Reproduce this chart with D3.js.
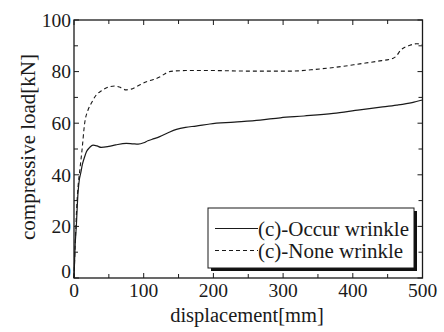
<!DOCTYPE html>
<html><head><meta charset="utf-8">
<script src="https://cdn.jsdelivr.net/npm/d3@7"></script>
<style>body{margin:0;background:#fff}svg{display:block}</style>
</head><body><svg id="c" width="444" height="332" font-family="'Liberation Serif', 'Times New Roman', Times, 'DejaVu Serif', serif"></svg>
<script>
const occurX = [0,1.5,3.3,5.7,7.6,9.6,12,15.3,18,22.5,27.3,33,39,50,60,75,85,92,100,106,115,123,135,147,160,175,195,230,267,296,330,372,410,440,463,485,500];
const occurY = [0,12,20,32.8,38,40.6,44,47,49,50.6,51.5,51.2,50.6,51,51.6,52.2,52,51.9,52.4,53.2,54,54.8,56.3,57.6,58.4,58.9,59.7,60.4,61.2,62.1,62.8,63.8,65.2,66.2,67,68,69];
const noneX = [0,2,4,6,8,11.5,15.3,20,24.8,32,39,51.6,58.4,65,75,82,90,104,114,125,133,142.5,160,200,250,315,340,362.6,385,410,435,458,463,468,482,492,500];
const noneY = [0,15,28,36,41,49.6,60,65,67.7,71,72.5,74.2,74.4,74,72.9,73.2,74.2,76.1,76.9,78.2,79.6,80.2,80.4,80.4,80.2,80.2,80.7,81.3,82,83,84,85.2,86.2,88.1,90.2,90.8,90.4];
const xTicks = [0,100,200,300,400,500];
const yTicks = [0,20,40,60,80,100];
const legendLabels = ["(c)-Occur wrinkle","(c)-None wrinkle"];
const xLabel = "displacement[mm]";
const yLabel = "compressive load[kN]";

const FONT = "'Liberation Serif', 'Times New Roman', Times, 'DejaVu Serif', serif";
const svg = d3.select("#c");
const L=74, R=422.5, T=20, B=278;
const x = d3.scaleLinear().domain([0,500]).range([L,R]);
const y = d3.scaleLinear().domain([0,100]).range([B,T]);
const col = "#1a1a1a";

const line = d3.line().x(d=>x(d[0])).y(d=>y(d[1])).curve(d3.curveMonotoneX);
const occur = occurX.map((v,i)=>[v,occurY[i]]);
const none = noneX.map((v,i)=>[v,noneY[i]]);
svg.append("path").attr("d",line(occur)).attr("fill","none").attr("stroke",col).attr("stroke-width",1.2);
svg.append("path").attr("d",line(none)).attr("fill","none").attr("stroke",col).attr("stroke-width",1.1).attr("stroke-dasharray","4,3");

svg.append("rect").attr("x",L).attr("y",T).attr("width",R-L).attr("height",B-T).attr("fill","none").attr("stroke",col).attr("stroke-width",1.3);

const xMinor = d3.range(0,501,50), yMinor = d3.range(0,101,10);
const g = svg.append("g").attr("stroke",col).attr("stroke-width",1);
xMinor.forEach(v=>{const len = v%100===0?5:4;
  g.append("line").attr("x1",x(v)).attr("x2",x(v)).attr("y1",B).attr("y2",B-len);
  g.append("line").attr("x1",x(v)).attr("x2",x(v)).attr("y1",T).attr("y2",T+len);});
yMinor.forEach(v=>{const len = v%20===0?5:4;
  g.append("line").attr("y1",y(v)).attr("y2",y(v)).attr("x1",L).attr("x2",L+len);
  g.append("line").attr("y1",y(v)).attr("y2",y(v)).attr("x1",R).attr("x2",R-len);});

function txt(sel){return sel.attr("font-family",FONT).attr("fill","#1a1a1a");}
txt(svg.selectAll(".xt").data(xTicks).enter().append("text").attr("x",d=>x(d)).attr("y",297)
  .attr("text-anchor","middle").attr("font-size",19.5).text(d=>d));
txt(svg.selectAll(".yt").data(yTicks).enter().append("text").attr("x",71).attr("y",d=>y(d)+(d===0?0:6.8))
  .attr("text-anchor","end").attr("font-size",19.5).text(d=>d));

txt(svg.append("text").attr("x",247).attr("y",322).attr("text-anchor","middle").attr("font-size",20.5).text(xLabel));
txt(svg.append("text").attr("transform","translate(35,147) rotate(-90)").attr("text-anchor","middle").attr("font-size",21).text(yLabel));

const lg = svg.append("g");
lg.append("rect").attr("x",211).attr("y",211).attr("width",206).attr("height",60).attr("fill","#111");
lg.append("rect").attr("x",208).attr("y",208).attr("width",206).attr("height",60).attr("fill","#fff").attr("stroke",col).attr("stroke-width",1);
legendLabels.forEach((t,i)=>{
  const yy = 228.5 + i*22;
  lg.append("line").attr("x1",215).attr("x2",258).attr("y1",yy).attr("y2",yy).attr("stroke",col)
    .attr("stroke-width",1.1).attr("stroke-dasharray",i===1?"4,3":null);
  txt(lg.append("text").attr("x",258).attr("y",yy+7).attr("font-size",21).text(t));
});
</script></body></html>
